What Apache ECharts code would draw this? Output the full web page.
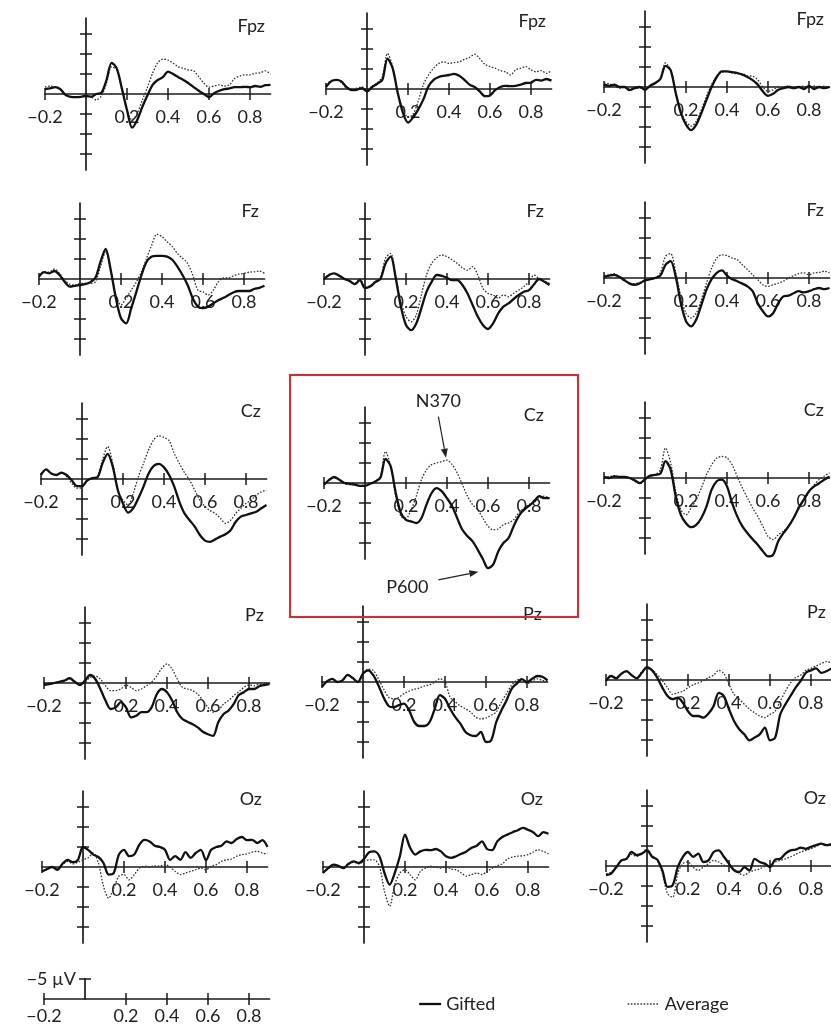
<!DOCTYPE html>
<html>
<head>
<meta charset="utf-8">
<script src="https://cdn.jsdelivr.net/npm/echarts@6/dist/echarts.min.js"></script>
<style>html,body{margin:0;padding:0;background:#fff}#chart{width:831px;height:1027px}</style>
</head>
<body>
<div id="chart"></div>
<script>
// ---------- data ----------
const TIMES = [-0.2,-0.175,-0.15,-0.125,-0.1,-0.075,-0.05,-0.025,0,0.025,0.05,0.075,0.1,0.125,0.15,0.175,0.2,0.225,0.25,0.275,0.3,0.325,0.35,0.375,0.4,0.425,0.45,0.475,0.5,0.525,0.55,0.575,0.6,0.625,0.65,0.675,0.7,0.725,0.75,0.775,0.8,0.825,0.85,0.875,0.9];
const X_TICKS = [-0.2, 0.2, 0.4, 0.6, 0.8];
const Y_TICKS = [-15, -10, -5, 5, 10, 15];
const SCALE_TICKS = [-5];
const ELECTRODES = ['Fpz', 'Fz', 'Cz', 'Pz', 'Oz'];
const SERIES_NAMES = ['Gifted', 'Average'];

// values in µV (negative plotted upward)
const GIFTED_FPZ_A = [-1.2,-1.4,-1.7,-1.2,0.2,0.7,0.8,0.7,0.5,0.7,0,-0.3,-3.5,-7.8,-6.4,-1.4,4,8.4,6.5,3.2,0.3,-2.3,-3.5,-4.2,-5.6,-5,-4.2,-3.5,-2.7,-1.7,-0.8,0,0.8,-0.2,-0.8,-1.2,-1.4,-1.7,-1.7,-1.8,-1.7,-2,-1.8,-2.2,-2.3];
const AVERAGE_FPZ_A = [-1.7,-2,-1.7,-1,0.2,0.7,0.8,0.7,0.2,0.7,1.5,0.5,-2.7,-6.8,-6,-1,4,6.5,4.8,1.5,-1.7,-5.2,-7.8,-8.7,-8.5,-7.7,-6.8,-6.4,-6,-5.8,-4.3,-2.7,-1.7,-2,-2.3,-2,-2.3,-3.9,-4.5,-4.8,-4.8,-5.2,-5.3,-5.8,-5];
const GIFTED_FPZ_B = [-0.5,-1.9,-2.3,-1.9,-0.5,0.3,0.2,-0.2,0.6,-0.5,-1.3,-2.3,-7.6,-5.2,1,5.9,8.4,7.1,5.1,2.6,-0.7,-2.3,-3,-3.3,-3.5,-3.8,-3.3,-2.3,-1.1,-0.5,0.6,1.8,1.6,0.3,-0.5,-0.8,-0.7,-0.8,-1.1,-1.5,-1.6,-2.3,-2.1,-2.5,-2.1];
const AVERAGE_FPZ_B = [-1.1,-2.1,-2.3,-1.6,-0.2,0.3,-0.2,-0.5,0.3,-0.7,-1.5,-3.1,-8.9,-5.6,1,5.1,7.1,6.3,3,-1.1,-3.5,-5.2,-6.4,-6.8,-6.4,-6.6,-6.8,-7.4,-7.9,-8.7,-7.6,-6.2,-5.6,-5.2,-4.6,-4.3,-3.5,-4.8,-5.2,-5.6,-4.8,-4.3,-4.6,-3.9,-4.6];
const GIFTED_FPZ_C = [-0.6,-0.3,-0.6,0,0,0.8,0.3,0,0.7,-0.3,-1,-2,-5.3,-4.2,1.5,6.5,9.4,10.8,9.4,6.5,3.2,0,-2.5,-3.9,-3.9,-3.7,-3.5,-3.1,-2.5,-1.7,-0.6,1.1,2.2,1.7,0.7,0.3,0,0.3,0,0.5,-0.3,0.5,0,0.3,0];
const AVERAGE_FPZ_C = [-1,-0.8,-0.3,0.3,0,0.5,0,0.3,0.3,-0.3,-1,-2.2,-6,-4.3,1.7,6.1,8.6,9.8,8.6,5.7,2.3,-0.6,-2.7,-3.7,-3.9,-3.5,-3.3,-3.3,-2.8,-2.7,-1.8,0,1.1,0.7,0,0.3,-0.3,0.3,0,-0.2,0.3,-0.3,0,-0.2,0];

const GIFTED_FZ_A = [-0.6,-1.7,-1.4,-2,-1,0.7,1.9,1.7,1.5,1.3,0.8,-0.3,-4.3,-7.5,-2.2,4.8,9.8,11.1,7.3,3.2,-1,-4.3,-5.6,-5.8,-5.8,-5.6,-4.8,-3.1,-1,1.5,4.8,6.9,7.3,6.9,6.1,5.3,4.7,4,3.3,3,3,3,2.5,2.2,1.7];
const AVERAGE_FZ_A = [-1,-1.8,-1.7,-2.5,-1.4,0.3,1.3,1.5,1.1,1.1,1.1,0.7,-3.1,-6.8,-2.2,4,6.5,4.8,2.8,0.7,-1.8,-5.2,-8.5,-11.2,-10.6,-9.3,-8.1,-6.4,-5.2,-3.9,-1,2.8,3.2,4,2.8,0.7,-0.3,-0.3,-0.8,-1.2,-1.4,-1.7,-1.8,-2,-1.4];
const GIFTED_FZ_B = [0,-1,-1.4,-0.8,0,0.5,1.3,0.3,2.3,1.9,0.8,0,-3.9,-5.6,-0.2,6.9,11.5,12.8,11.1,7.3,3.2,0.7,-1,-0.8,-0.3,0.3,0.3,1.5,3.6,6.5,9.4,11.5,12.5,11.1,8.6,6.9,6.1,5,4,3.2,2.8,1.3,0,0.7,1.5];
const AVERAGE_FZ_B = [0,-1.2,-1.4,-0.6,0,0.5,1.1,0,1.9,1.7,0.5,-0.3,-5.2,-6.4,-0.6,5.7,9.4,10.7,9,4,-1,-3.9,-5.3,-6,-5.6,-4.8,-3.9,-2.8,-2.2,-3.1,-1,2.3,3.6,4,4.8,4,4.4,3.6,2.8,1.9,0.7,-1,0,0.5,1.1];
const GIFTED_FZ_C = [-0.3,-0.6,-0.8,-0.3,0.6,1.4,1.7,1.3,0.6,0.3,0,-0.6,-3.3,-4.2,-0.3,6.3,10.8,12.1,10.4,6.7,2.9,0.3,-1.3,-1.9,-0.6,0.3,0.8,1.4,2.1,3.3,6.3,8.3,9.6,8.8,6.3,4.6,4.4,3.8,3.3,3.6,3.3,2.8,2.5,2.8,2.5];
const AVERAGE_FZ_C = [-0.6,-0.8,-1.1,-0.3,0.4,1.3,1.4,1.1,0.6,0.3,0,-1.3,-5.4,-6.1,-1.3,4.6,8.8,10,8.8,5.4,1.3,-2.5,-5,-5.8,-5.6,-5,-4.6,-3.3,-2.1,-0.8,0.4,1.7,2.1,1.7,1.3,0.8,0,-0.6,-1.1,-1.3,-0.8,-1.3,-1.4,-1.7,-1.3];

const GIFTED_CZ_A = [-1,-2.4,-1.4,-1,-1.6,-1,0.3,1.8,1.8,0.4,-0.2,-0.4,-3.9,-6.3,-3.1,2.8,6.1,8.4,7.3,4.8,1.9,-1.4,-3.3,-3.8,-2.9,-1,1.9,5.7,8.6,10.3,11.9,14,15.4,15.7,15.1,14.4,13.8,12.8,10.7,9.4,9,8.6,8.2,7.3,6.5];
const AVERAGE_CZ_A = [-1.4,-2.3,-1.3,-1,-1.4,-0.6,1.1,2.3,2.1,0.3,-0.2,-0.6,-4.8,-8.1,-3.9,2.8,5.3,6.5,3.6,-0.6,-3.9,-7.3,-9.8,-10.8,-10.4,-9.6,-6.4,-3.9,-1.6,0.3,2.8,5.3,6.9,7.9,8.6,9.8,11.1,10.3,8.6,7.3,6.1,5.3,4,3.2,2.8];
const GIFTED_CZ_B = [0.4,-0.8,-1.5,-0.8,0,0.2,0.4,0.7,0.7,0.2,-0.4,-1.3,-6,-4.2,2.5,7.5,9.2,9.6,10,8.8,5.4,2.5,1.3,2.1,3.8,5.8,8.8,11.7,13.3,14.6,16.7,19,21.3,20.4,17.1,15,13.8,10.8,8.3,6.7,5.7,4.6,3.3,3.8,3.8];
const AVERAGE_CZ_B = [0.4,-0.7,-1.3,-0.7,0.2,0.4,0.4,0.7,0.4,0,-0.4,-1.7,-7.9,-4.2,3.3,8.3,8.8,6.7,3.3,-0.8,-3.3,-4.6,-5,-5.4,-5.7,-4.6,-2.5,0.4,3.3,5.4,6.7,8.8,10.8,11.7,11.5,10.4,10,9.2,7.5,6.3,5.4,4.8,3.8,3.3,3.8];
const GIFTED_CZ_C = [-0.3,0,-0.4,-0.3,-0.3,0,0.6,1.3,0.3,-0.6,-0.8,-1.1,-4.2,-2.1,4.6,9.2,11.3,12.3,11.7,10,7.1,2.9,0.8,0.4,2.1,6.3,9.6,12.1,13.8,15.3,16.7,18.3,19.6,19.2,15.8,13.8,12.1,10,7.5,5.4,3.3,2.1,1.3,0.4,-0.4];
const AVERAGE_CZ_C = [-0.4,-0.3,-0.6,-0.3,-0.3,0,0.8,1.4,0.4,-0.4,-0.8,-2.1,-7.5,-3.8,3.3,7.9,9.2,7.5,5.4,2.5,-0.8,-3.3,-5,-5.4,-5,-3.3,-0.4,2.5,5,7.5,9.6,12.1,14.6,15.4,14.2,13.3,12.1,10,7,5.5,3.5,1.7,0.4,-0.5,-1.3];

const GIFTED_PZ_A = [0.5,0.3,0,-0.3,-0.6,-1.2,-0.3,0.5,-0.6,-2,-1,1.5,4.4,6.5,6.1,4.8,6.1,8.6,8.2,7.3,7.3,6.1,2.8,1.5,2.3,4.4,7.3,9,9.7,10.3,11.1,12.2,12.8,13.2,9.8,7.8,6.9,5.3,3,2.3,1.5,1.5,0.8,0.5,0.3];
const AVERAGE_PZ_A = [0.5,0.3,0,-0.2,-0.6,-1,-0.2,0.5,-0.2,-1.4,-1.7,-1,0.7,1.9,1.9,1.5,0.5,1.1,1.9,1.5,0.7,-0.2,-1.8,-3.7,-4.8,-3.5,-1,1.1,1.5,1.9,2.8,4.4,6.1,7.3,6.9,5.3,4.4,3.2,2.2,1.1,0.5,0.7,0.3,0.5,0];
const GIFTED_PZ_B = [1.2,-0.2,-0.8,0,-0.4,-1.8,-1,0,-2.1,-2.9,-1.7,0.8,3.8,6,6.3,5.8,5.4,7.1,10,11,11,10,6.7,3.3,4.2,6.7,8.8,10.4,12.5,13.3,13.5,12.5,15,14.6,10,7.1,4.6,1.7,0.4,-0.7,0,-0.8,-1.5,-1.3,-0.4];
const AVERAGE_PZ_B = [1,0,-0.7,0,-0.4,-1.7,-0.8,0,-1.8,-3.2,-2.9,-0.8,1.7,3.8,4.2,3.8,2.9,2.3,1.8,1.5,1,0.7,0,-0.8,0,3.8,5,6,6.7,7.5,8.8,9.2,9,8.3,7.5,5,2.9,0.8,-0.4,-0.8,0.4,-0.2,-0.8,-0.4,-0.2];
const GIFTED_PZ_C = [0.2,-1,-0.4,-1.6,-2.2,-1.2,-0.4,-1.8,-3.2,-2.4,-0.6,1.9,4,4.8,4.4,5.7,7.8,9,9,9.4,8.4,6.5,3.2,4,7.3,10.3,12.3,13.6,15.1,14.4,13.6,11.9,15.1,14.4,8.6,6.1,4,1.9,0.2,-1.8,-2.4,-2.9,-1.8,-2.2,-2.9];
const AVERAGE_PZ_C = [0.1,-1,-0.6,-1.4,-2.1,-1.2,-0.6,-2.1,-2.9,-2.4,-1.4,0.2,1.9,3.6,3.2,2.8,1.9,1.2,0.7,0.2,-0.6,-1.2,-2.4,-1.6,1.1,3.6,4.8,6.1,7.3,8.2,9,9.4,8.6,7.8,5.3,2.8,0.7,-0.6,-1.2,-2.4,-2.9,-3.5,-4.1,-4.6,-4.3];

const GIFTED_OZ_A = [1.1,0.5,0,0.7,-0.8,-1.8,-1.2,-1.8,-5,-4.3,-3.1,-2.5,-1,1.9,1.5,-3.1,-4.3,-2.7,-3.1,-5.6,-6.8,-6.4,-5.3,-5,-4.3,-1.8,-2.7,-1.8,-3.7,-2.3,-3.5,-4.3,-1.7,-4.3,-5,-5.3,-6.4,-6,-7,-7.5,-6.7,-6.8,-6,-6.7,-5];
const AVERAGE_OZ_A = [1.1,0.7,0,0.5,-0.6,-1.4,-0.8,-1.2,-1.8,-2.3,-3.5,-1,4.8,7.8,5.3,2.3,1.9,3.2,1.9,0.3,-0.2,0,-0.3,-0.2,-0.6,0,1.1,1.9,1.5,1.1,0.7,0.3,0.7,-0.2,-0.6,-1.4,-1.8,-2,-2.7,-3.1,-3.3,-3.7,-3.9,-3.5,-3.3];
const GIFTED_OZ_B = [1.5,0.3,-0.6,-0.3,0.3,-0.8,-1.4,-1,-2,-3.7,-3.9,-2.7,1.5,4.4,1.5,-2.7,-8.1,-4.8,-3.1,-3.9,-4.3,-4.2,-4.5,-3.9,-2.7,-2.3,-2.7,-3.3,-3.9,-4.8,-5.3,-6.4,-4.5,-4.2,-6.4,-7.5,-8.1,-8.7,-9.2,-9.8,-9.3,-8.7,-7.7,-8.7,-8.3];
const AVERAGE_OZ_B = [1.3,0.5,-0.3,-0.2,0,-0.8,-1.2,-0.8,-1.4,-1.8,-1.8,-0.2,6.1,9.8,4.4,1.5,0.7,1.9,3.2,1.1,0.3,-0.2,0,0.3,-0.2,0.5,0.7,1.5,2.3,1.9,1.5,1.9,1.1,0.3,-0.3,-0.8,-2,-2.5,-2.7,-2.8,-3.1,-3.7,-4.3,-3.9,-3.3];
const GIFTED_OZ_C = [2.3,1.9,0.3,-1.4,-1.8,-3.5,-2.7,-3.1,-3.9,-2.3,-1.6,1.1,5.2,4.8,0.3,-2.3,-3.5,-2.3,-3.1,-1,-1.4,-3.5,-3.9,-2.3,-0.6,1.1,1.5,0.3,1.1,-1.8,-1,-0.6,0.3,-1.6,-1.8,-3.1,-3.9,-4.1,-4.6,-4.3,-4.8,-5.2,-5.6,-5.2,-5.4];
const AVERAGE_OZ_C = [1.9,1.5,0.1,-1.2,-1.8,-2.9,-2.4,-3.2,-4.3,-2.7,-1.4,1.9,6.9,7.8,1.9,-0.6,-1,0.3,1.1,0.3,-0.6,-1.4,-1,-0.2,0.1,0.7,1.9,2.3,1.5,1.1,0.7,0.1,-0.4,-1,-1.4,-1.8,-2.3,-2.9,-3.5,-3.9,-4.3,-4.9,-5.6,-5.2,-5.6];

// annotation arrows (time s, µV) in the Cz middle panel
const ANNOTATIONS = ['N370', 'P600'];
const N370_ARROW = [[0.358, -16.6], [0.395, -6.3]];
const P600_ARROW = [[0.358, 24.2], [0.553, 22.2]];

// ---------- layout ----------
const PX_PER_S = 205, PX_PER_UV = 4;
const X_MIN = -0.2, X_MAX = 0.9, Y_LIM = 19;
const PANEL_X0 = [[86,367,645],[80,365,645],[82,365,645],[85,363,647],[83,364,647]];
const PANEL_Z  = [[94,89,87],[279,279,278],[479,483,478],[683,682,680],[867,867,866]];
const FONT = 'Lato, "Open Sans", "DejaVu Sans", sans-serif';
const INK = '#1a1a1a';

const GIFTED = [
  [GIFTED_FPZ_A, GIFTED_FPZ_B, GIFTED_FPZ_C],
  [GIFTED_FZ_A, GIFTED_FZ_B, GIFTED_FZ_C],
  [GIFTED_CZ_A, GIFTED_CZ_B, GIFTED_CZ_C],
  [GIFTED_PZ_A, GIFTED_PZ_B, GIFTED_PZ_C],
  [GIFTED_OZ_A, GIFTED_OZ_B, GIFTED_OZ_C]
];
const AVERAGE = [
  [AVERAGE_FPZ_A, AVERAGE_FPZ_B, AVERAGE_FPZ_C],
  [AVERAGE_FZ_A, AVERAGE_FZ_B, AVERAGE_FZ_C],
  [AVERAGE_CZ_A, AVERAGE_CZ_B, AVERAGE_CZ_C],
  [AVERAGE_PZ_A, AVERAGE_PZ_B, AVERAGE_PZ_C],
  [AVERAGE_OZ_A, AVERAGE_OZ_B, AVERAGE_OZ_C]
];

const grids = [], xAxes = [], yAxes = [], series = [], graphics = [];
const fmtX = v => (v < 0 ? '\u2212' + Math.abs(v).toFixed(1) : v.toFixed(1));
const axisLineStyle = {color: INK, width: 1.7};

// each panel: axes are shifted (offset) so that they cross at (0 s, 0 µV);
// a second, line-less copy of each axis draws the inner half of the ticks.
function addPanel(x0, z, yMin, yMax, yTicks, yLabelFmt, xMargin) {
  const g = grids.length;
  grids.push({
    left: x0 + X_MIN * PX_PER_S, top: z + yMin * PX_PER_UV,
    width: (X_MAX - X_MIN) * PX_PER_S, height: (yMax - yMin) * PX_PER_UV,
    containLabel: false, outerBoundsMode: 'none'
  });
  const xa = xAxes.length, ya = yAxes.length;
  [false, true].forEach((inside) => {
    xAxes.push({
      type: 'value', gridIndex: g, position: 'bottom', offset: -yMax * PX_PER_UV, min: X_MIN, max: X_MAX,
      axisLine: {show: !inside, onZero: false, lineStyle: axisLineStyle},
      axisTick: {show: true, inside: inside, length: 6, customValues: X_TICKS, lineStyle: {color: INK, width: 1.5}},
      axisLabel: inside ? {show: false} : {show: true, customValues: X_TICKS, formatter: fmtX, margin: xMargin,
        color: '#222', fontSize: 18, fontFamily: FONT},
      splitLine: {show: false}
    });
    yAxes.push({
      type: 'value', gridIndex: g, position: 'left', offset: X_MIN * PX_PER_S, inverse: true, min: yMin, max: yMax,
      axisLine: {show: !inside, onZero: false, lineStyle: axisLineStyle},
      axisTick: {show: true, inside: inside, length: 6, customValues: yTicks, lineStyle: {color: INK, width: 1.5}},
      axisLabel: (!inside && yLabelFmt) ? {show: true, customValues: yTicks, formatter: yLabelFmt, margin: 9,
        color: '#222', fontSize: 18, fontFamily: FONT, verticalAlign: 'middle'} : {show: false},
      splitLine: {show: false}
    });
  });
  return {xIndex: xa, yIndex: ya};
}

let czMid = null;
for (let r = 0; r < 5; r++) {
  for (let c = 0; c < 3; c++) {
    const x0 = PANEL_X0[r][c], z = PANEL_Z[r][c];
    const ax = addPanel(x0, z, -Y_LIM, Y_LIM, Y_TICKS, null, 14);
    if (r === 2 && c === 1) czMid = ax;
    const avg = AVERAGE[r][c], gif = GIFTED[r][c];
    series.push({
      name: SERIES_NAMES[1], type: 'line', xAxisIndex: ax.xIndex, yAxisIndex: ax.yIndex,
      data: TIMES.map((t, i) => [t, avg[i]]), symbol: 'none', showSymbol: false, smooth: 0.3, clip: false,
      itemStyle: {color: '#333'},
      lineStyle: {color: '#333', width: 1.3, type: [1.6, 1.6]}, z: 2, silent: true
    });
    series.push({
      name: SERIES_NAMES[0], type: 'line', xAxisIndex: ax.xIndex, yAxisIndex: ax.yIndex,
      data: TIMES.map((t, i) => [t, gif[i]]), symbol: 'none', showSymbol: false, smooth: 0.3, clip: false,
      itemStyle: {color: '#111'},
      lineStyle: {color: '#111', width: 2.3}, z: 3, silent: true
    });
    graphics.push({
      type: 'text', x: x0 + 179, y: z - 68,
      style: {text: ELECTRODES[r], align: 'right', verticalAlign: 'middle', fontSize: 18, fontFamily: FONT, fill: '#222'}
    });
  }
}

// scale bar panel (a 5 µV bar)
addPanel(85, 999, -5.1, 0, SCALE_TICKS, v => '\u22125 \u00b5V', 8);

// red highlight box around the middle Cz panel
graphics.push({type: 'rect', shape: {x: 290, y: 375, width: 288, height: 242},
  style: {fill: 'none', stroke: '#e2262b', lineWidth: 2}, z: 10});

const chart = echarts.init(document.getElementById('chart'), null, {renderer: 'canvas'});
const legendCommon = {selectedMode: false, itemHeight: 12, itemStyle: {opacity: 0},
  textStyle: {fontSize: 18, color: '#222', fontFamily: FONT}};
chart.setOption({
  animation: false,
  backgroundColor: '#fff',
  grid: grids,
  xAxis: xAxes,
  yAxis: yAxes,
  series: series,
  graphic: graphics,
  legend: [
    Object.assign({data: [{name: SERIES_NAMES[0]}], left: 413, top: 990, itemWidth: 22,
      lineStyle: {color: '#111', width: 2.3}}, legendCommon),
    Object.assign({data: [{name: SERIES_NAMES[1]}], left: 622, top: 990, itemWidth: 32,
      lineStyle: {color: '#333', width: 1.3, type: [1.6, 1.6]}}, legendCommon)
  ]
});

// arrows + labels for N370 / P600, placed through the Cz panel's own scales
function toPx(p) { return chart.convertToPixel({xAxisIndex: czMid.xIndex, yAxisIndex: czMid.yIndex}, p); }
const annGraphics = [];
[[N370_ARROW, ANNOTATIONS[0], 'top'], [P600_ARROW, ANNOTATIONS[1], 'left']].forEach(([arrow, label, side]) => {
  const a = toPx(arrow[0]), b = toPx(arrow[1]);
  const dx = b[0] - a[0], dy = b[1] - a[1], len = Math.hypot(dx, dy), ux = dx / len, uy = dy / len;
  const hl = 9, hw = 3.5;
  const base = [b[0] - ux * hl, b[1] - uy * hl];
  annGraphics.push({type: 'line', shape: {x1: a[0], y1: a[1], x2: base[0], y2: base[1]},
    style: {stroke: '#222', lineWidth: 1.2}, z: 20});
  annGraphics.push({type: 'polygon', shape: {points: [b, [base[0] - uy * hw, base[1] + ux * hw], [base[0] + uy * hw, base[1] - ux * hw]]},
    style: {fill: '#222'}, z: 20});
  if (side === 'top') {
    annGraphics.push({type: 'text', x: a[0], y: a[1] - 6, z: 20,
      style: {text: label, align: 'center', verticalAlign: 'bottom', fontSize: 18, fontFamily: FONT, fill: '#222'}});
  } else {
    annGraphics.push({type: 'text', x: a[0] - 10, y: a[1] + 7, z: 20,
      style: {text: label, align: 'right', verticalAlign: 'middle', fontSize: 18, fontFamily: FONT, fill: '#222'}});
  }
});
chart.setOption({graphic: graphics.concat(annGraphics)});
</script>
</body>
</html>
